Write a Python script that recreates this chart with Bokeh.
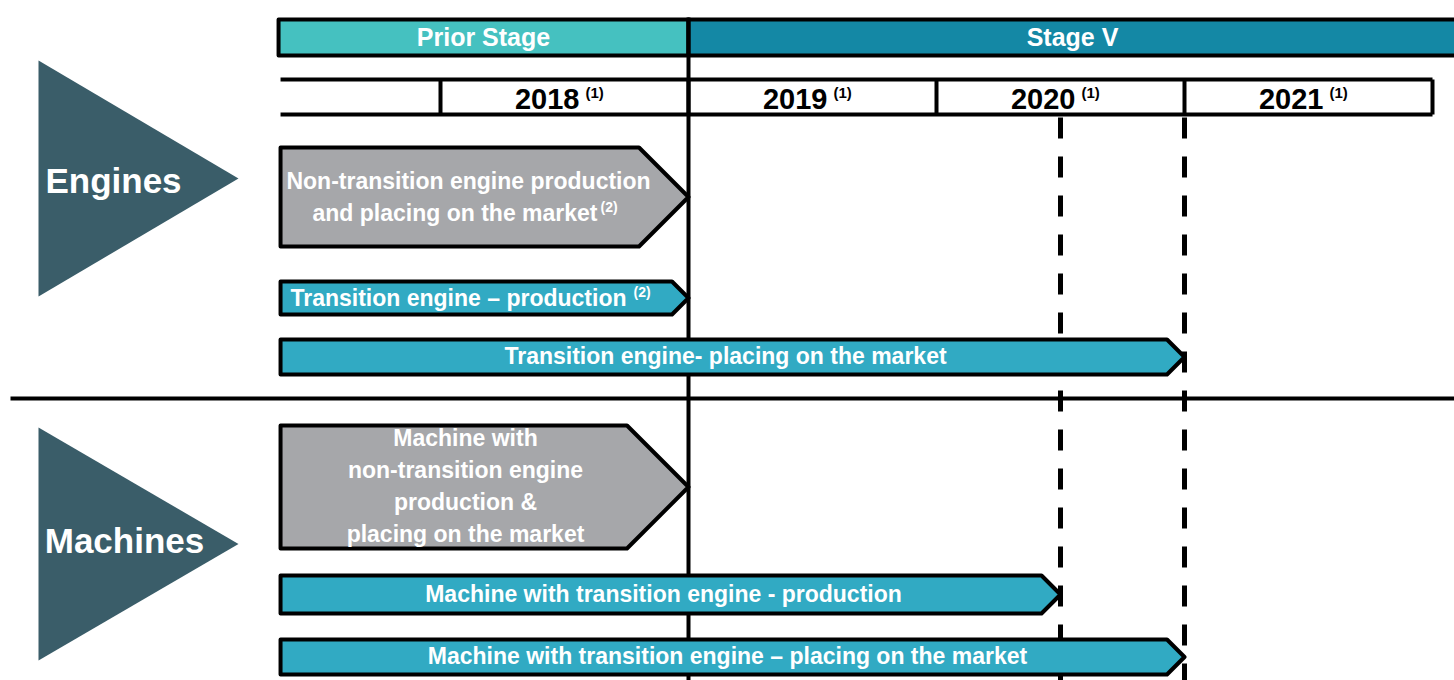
from bokeh.plotting import figure
from bokeh.models import Range1d
from bokeh.core.properties import value
from bokeh.embed import file_html
from bokeh.resources import INLINE

# ---------------- data ----------------
stage_names = ["Prior Stage", "Stage V"]
stage_from = [2017.347, 2019.0]
stage_to = [2019.0, 2022.2]
stage_colors = ["#45C1C0", "#1488A5"]

year_labels = ["2018", "2019", "2020", "2021"]
year_from = [2018.0, 2019.0, 2020.0, 2021.0]
year_to = [2019.0, 2020.0, 2021.0, 2022.0]
year_note = "(1)"
timeline_start = 2017.355

group_names = ["Engines", "Machines"]

bar_lines = [
    ["Non-transition engine production", "and placing on the market"],
    ["Transition engine \u2013 production"],
    ["Transition engine- placing on the market"],
    ["Machine with", "non-transition engine", "production &", "placing on the market"],
    ["Machine with transition engine - production"],
    ["Machine with transition engine \u2013 placing on the market"],
]
bar_notes = ["(2)", "(2)", "", "", "", ""]
bar_start = [2017.355] * 6
bar_end = [2019.0, 2019.0, 2021.0, 2019.0, 2020.5, 2021.0]
bar_kind = ["non-transition", "transition", "transition",
            "non-transition", "transition", "transition"]

stage_v_start = 2019.0
deadlines = [2020.5, 2021.0]

# ---------------- layout helpers ----------------
PXY = 248.0  # pixels per year
W, H = 1454, 680


def t(px):
    return 2018.0 + (px - 440.0) / PXY


FONT = value("Liberation Sans")
kind_color = {"non-transition": "#A6A7AA", "transition": "#31AAC3"}
BLACK = "#000000"

p = figure(width=W, height=H,
           x_range=Range1d(t(0), t(W)), y_range=Range1d(H, 0),
           output_backend="svg", toolbar_location=None,
           x_axis_location=None, y_axis_location=None, min_border=0)
p.outline_line_color = None
p.grid.visible = False
p.background_fill_color = "white"
p.border_fill_color = "white"

# ---- stage header ----
p.quad(left=stage_from, right=stage_to, top=[19, 19], bottom=[55, 55],
       fill_color=stage_colors, line_color=BLACK, line_width=4, line_join="round")
p.text(x=[t(483), t(1072)], y=[36, 36], text=stage_names, text_font=FONT,
       text_font_style="bold", text_font_size="25px", text_color="white",
       text_align="center", text_baseline="middle")

# ---- year row ----
p.segment(x0=[timeline_start, timeline_start], x1=[year_to[-1], year_to[-1]],
          y0=[79, 114], y1=[79, 114], line_color=BLACK, line_width=4)
p.segment(x0=year_from + [year_to[-1]], x1=year_from + [year_to[-1]],
          y0=[79] * 5, y1=[114] * 5, line_color=BLACK, line_width=4)
centers = [(a + b) / 2 for a, b in zip(year_from, year_to)]
p.text(x=[c + 15 / PXY for c in centers], y=[98] * 4, text=year_labels, text_font=FONT,
       text_font_style="bold", text_font_size="29px", text_color=BLACK,
       text_align="right", text_baseline="middle")
p.text(x=[c + 21 / PXY for c in centers], y=[92] * 4, text=[year_note] * 4, text_font=FONT,
       text_font_style="bold", text_font_size="15px", text_color=BLACK,
       text_align="left", text_baseline="middle")

# ---- vertical guide lines ----
p.segment(x0=[stage_v_start], x1=[stage_v_start], y0=[17], y1=[690],
          line_color=BLACK, line_width=4)
p.segment(x0=deadlines, x1=deadlines, y0=[117] * 2, y1=[690] * 2,
          line_color=BLACK, line_width=5, line_dash="21 18")

# ---- separator ----
p.segment(x0=[t(10)], x1=[t(1460)], y0=[398], y1=[398], line_color=BLACK, line_width=4)

# ---- group triangles ----
tri_rows = [(60, 296), (427, 660)]
p.patches(xs=[[t(38), t(238), t(38)] for _ in tri_rows],
          ys=[[a, (a + b) / 2, b] for a, b in tri_rows],
          fill_color="#3A5D69", line_color=None)
p.text(x=[t(113), t(124)], y=[180, 540], text=group_names, text_font=FONT,
       text_font_style="bold", text_font_size="35px", text_color="white",
       text_align="center", text_baseline="middle")

# ---- bars (pentagon arrows) ----
rows = [(147, 246), (281, 314), (339, 374), (425, 548), (575, 613), (639, 674)]
xs, ys, cols = [], [], []
for (top, bot), s, e, k in zip(rows, bar_start, bar_end, bar_kind):
    h = bot - top
    tip = (h / 2.0) / PXY
    xs.append([s, e - tip, e, e - tip, s])
    ys.append([top, top, (top + bot) / 2, bot, bot])
    cols.append(kind_color[k])
p.patches(xs=xs, ys=ys, fill_color=cols, line_color=BLACK, line_width=4, line_join="round")

# bar texts (positions are layout)
tx, ty, tt, ta = [], [], [], []
tx += [t(468), t(597)]; ty += [180, 212]; tt += bar_lines[0]; ta += ["center", "right"]
tx += [t(626)]; ty += [297]; tt += bar_lines[1]; ta += ["right"]
tx += [t(725)]; ty += [355]; tt += bar_lines[2]; ta += ["center"]
tx += [t(465)] * 4; ty += [437, 469, 501, 533]; tt += bar_lines[3]; ta += ["center"] * 4
tx += [t(663)]; ty += [593]; tt += bar_lines[4]; ta += ["center"]
tx += [t(727)]; ty += [655]; tt += bar_lines[5]; ta += ["center"]
p.text(x=tx, y=ty, text=tt, text_align=ta, text_font=FONT, text_font_style="bold",
       text_font_size="23px", text_color="white", text_baseline="middle")
p.text(x=[t(600), t(633)], y=[206, 291], text=[bar_notes[0], bar_notes[1]], text_font=FONT,
       text_font_style="bold", text_font_size="14px", text_color="white",
       text_align="left", text_baseline="middle")

open("out.html", "w").write(file_html(p, INLINE))
